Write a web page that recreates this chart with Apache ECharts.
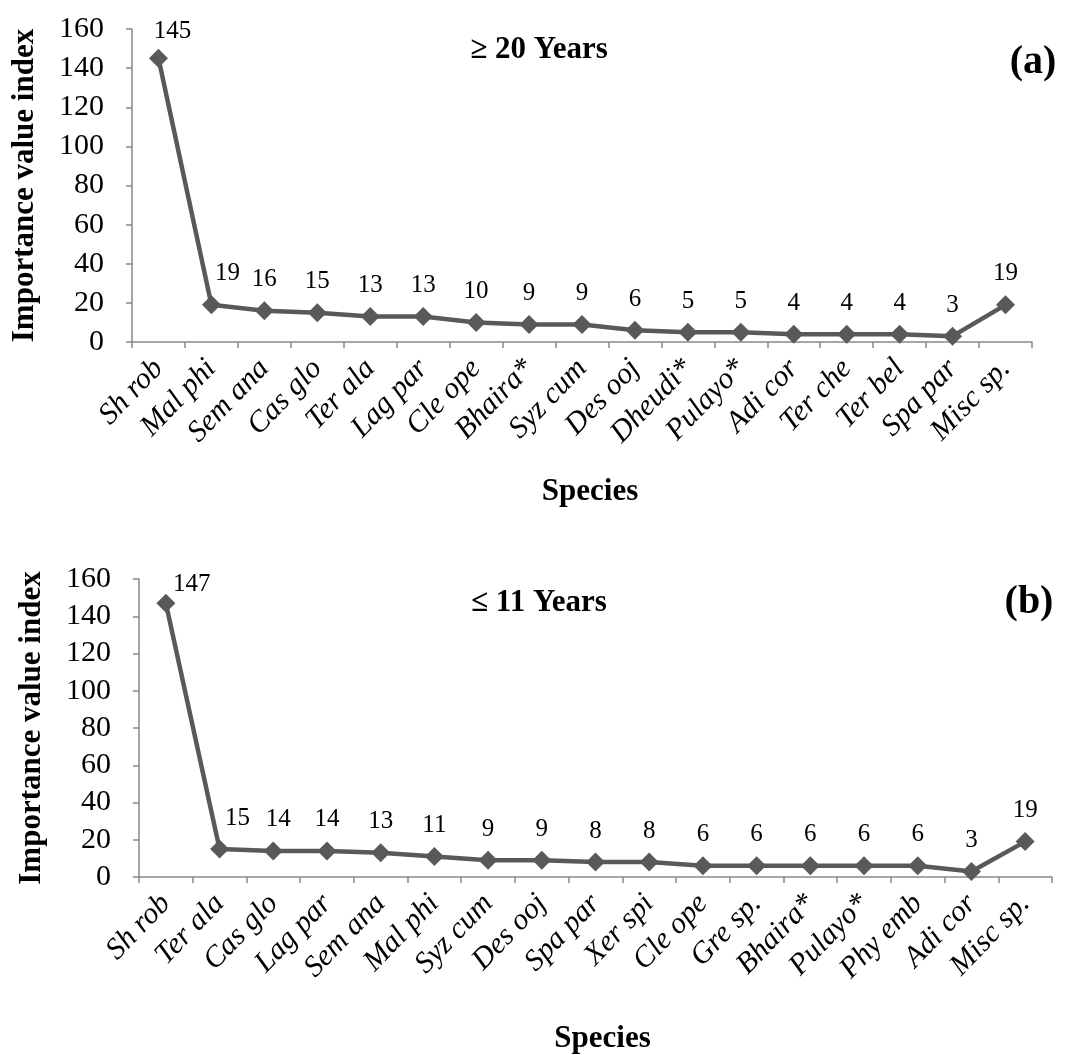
<!DOCTYPE html>
<html>
<head>
<meta charset="utf-8">
<script src="https://cdn.jsdelivr.net/npm/echarts@6/dist/echarts.min.js"></script>
<style>
html,body{margin:0;padding:0;background:#fff;}
#c{width:1071px;height:1055px;}
</style>
</head>
<body>
<div id="c"></div>
<script>
// ---- data ----
const speciesA = ['Sh rob','Mal phi','Sem ana','Cas glo','Ter ala','Lag par','Cle ope','Bhaira*','Syz cum','Des ooj','Dheudi*','Pulayo*','Adi cor','Ter che','Ter bel','Spa par','Misc sp.'];
const ivA = [145,19,16,15,13,13,10,9,9,6,5,5,4,4,4,3,19];
const speciesB = ['Sh rob','Ter ala','Cas glo','Lag par','Sem ana','Mal phi','Syz cum','Des ooj','Spa par','Xer spi','Cle ope','Gre sp.','Bhaira*','Pulayo*','Phy emb','Adi cor','Misc sp.'];
const ivB = [147,15,14,14,13,11,9,9,8,8,6,6,6,6,6,3,19];
const yTicks = [0,20,40,60,80,100,120,140,160];
const titleA = '\u2265 20 Years';
const titleB = '\u2264 11 Years';

// ---- styling ----
const FONT = "'Liberation Serif','Times New Roman',serif";
const AX = '#898989';
const LINE = '#595959';
// label offsets (style only) for the first points
const offA = {0:[14,4], 1:[16,0]};
const offB = {0:[26,12], 1:[18,0], 2:[5,0]};

function mkData(vals, offs){
  return vals.map((v,i)=>{
    const o = {value:v};
    if (offs[i]) o.label = {offset: offs[i]};
    return o;
  });
}

function xAxis(idx, cats, gap, padL){
  return {
    type:'category', gridIndex:idx, data:cats, boundaryGap:true,
    axisLine:{lineStyle:{color:AX,width:1.5}},
    axisTick:{show:true,alignWithLabel:false,length:6,lineStyle:{color:AX,width:1.5}},
    axisLabel:{rotate:46,interval:0,margin:22,color:'#000',fontFamily:FONT,fontStyle:'italic',fontSize:30},
    name:'Species', nameLocation:'middle', nameGap:gap,
    nameTextStyle:{fontFamily:FONT,fontWeight:'bold',fontSize:31,color:'#000',padding:[0,0,0,padL]}
  };
}
function yAxis(idx, gap){
  return {
    type:'value', gridIndex:idx, min:yTicks[0], max:yTicks[yTicks.length-1], interval:20,
    axisLine:{show:true,lineStyle:{color:AX,width:1.5}},
    axisTick:{show:true,length:6,lineStyle:{color:AX,width:1.5}},
    splitLine:{show:false},
    axisLabel:{margin:28,color:'#000',fontFamily:FONT,fontSize:30},
    name:'Importance value index', nameLocation:'middle', nameGap:gap, nameRotate:90,
    nameTextStyle:{fontFamily:FONT,fontWeight:'bold',fontSize:31,color:'#000'}
  };
}
function series(idx, vals, offs){
  return {
    type:'line', xAxisIndex:idx, yAxisIndex:idx, data:mkData(vals, offs),
    symbol:'diamond', symbolSize:19,
    lineStyle:{color:LINE,width:4.5},
    itemStyle:{color:LINE},
    label:{show:true,position:'top',distance:9,color:'#000',fontFamily:FONT,fontSize:25},
    animation:false
  };
}

const chart = echarts.init(document.getElementById('c'), null, {renderer:'canvas'});
chart.setOption({
  backgroundColor:'#fff',
  animation:false,
  grid:[
    {left:132, width:900, top:29, height:313},
    {left:139, width:913, top:579, height:309}
  ],
  xAxis:[xAxis(0, speciesA, 134, 16), xAxis(1, speciesB, 146, 14)],
  yAxis:[yAxis(0, 92), yAxis(1, 92)],
  series:[series(0, ivA, offA), series(1, ivB, offB)],
  graphic:[
    {type:'text', x:539, y:50, style:{text:titleA, fontFamily:FONT, fontWeight:'bold', fontSize:31, fill:'#000', textAlign:'center', textVerticalAlign:'middle'}},
    {type:'text', x:1033, y:63, style:{text:'(a)', fontFamily:FONT, fontWeight:'bold', fontSize:40, fill:'#000', textAlign:'center', textVerticalAlign:'middle'}},
    {type:'text', x:539, y:603, style:{text:titleB, fontFamily:FONT, fontWeight:'bold', fontSize:31, fill:'#000', textAlign:'center', textVerticalAlign:'middle'}},
    {type:'text', x:1029, y:603, style:{text:'(b)', fontFamily:FONT, fontWeight:'bold', fontSize:40, fill:'#000', textAlign:'center', textVerticalAlign:'middle'}}
  ]
});
</script>
</body>
</html>
